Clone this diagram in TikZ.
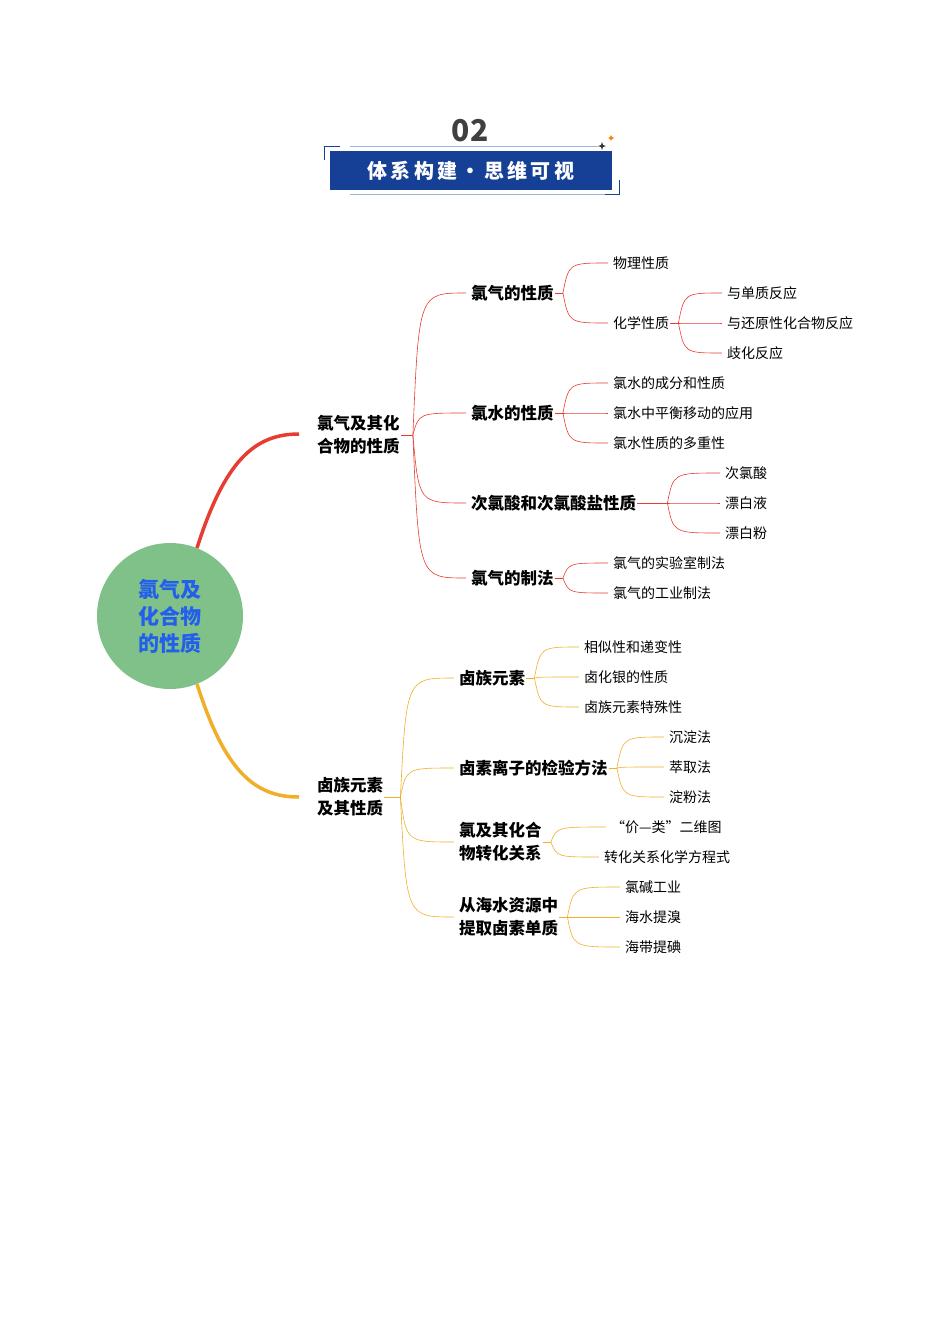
\documentclass[tikz,border=0pt]{standalone}
\usepackage{fontspec}
\setmainfont{Noto Sans CJK SC}
\definecolor{myred}{RGB}{230,60,50}
\definecolor{myorange}{RGB}{240,175,40}
\definecolor{mygreen}{RGB}{128,193,137}
\definecolor{myblue}{RGB}{35,95,235}
\definecolor{navy}{RGB}{22,64,150}
\tikzset{
    topic/.style={anchor=west, inner sep=1pt, font=\fontsize{16.5}{23}\selectfont\bfseries, align=left},
    leaf/.style={anchor=west, inner sep=1pt, font=\fontsize{14}{16}\selectfont},
    twig/.style={line width=0.6pt},
}
% curved connector from a split point to a child
\newcommand{\twig}[3]{\draw[twig, #3] (#1) .. controls ([xshift=6pt]#1 |- #2.west) .. ([xshift=-4pt]#2.west);}
\begin{document}
\begin{tikzpicture}[x=1pt, y=-1pt]
    \useasboundingbox (0, 0) rectangle (950, 1344);
    % Title
    \node[font=\fontsize{30}{30}\selectfont\bfseries, color=black!75] (num) at (470, 131) {02};
    \draw[navy!40, line width=0.6pt] (350, 146) -- (598, 146);
    \draw[navy!40, line width=0.6pt] (350, 194) -- (612, 194);
    \draw[navy, line width=1pt] (324, 160) -- (324, 146) -- (340, 146);
    \draw[navy, line width=1pt] (619, 180) -- (619, 194) -- (605, 194);
    \fill[navy] (330, 151) rectangle (612, 190);
    \node[font=\fontsize{20}{20}\selectfont\bfseries, color=white] (title) at (471, 171) {体\,系\,构\,建\,·\,思\,维\,可\,视};
    \fill[black!80] (602, 142) -- (603, 145) -- (606, 146) -- (603, 147) -- (602, 150) -- (601, 147) -- (598, 146) -- (601, 145) -- cycle;
    \fill[orange] (611, 135) -- (612, 137) -- (614, 138) -- (612, 139) -- (611, 141) -- (610, 139) -- (608, 138) -- (610, 137) -- cycle;

    % Root
    \node[circle, fill=mygreen, minimum size=146pt, inner sep=0pt, align=center,
        font=\fontsize{21}{27}\selectfont\bfseries, text=myblue] (root) at (170, 616)
        {氯气及\\化合物\\的性质};
    \draw[myred, line width=3.5pt] (197, 548) .. controls (225, 460) and (255, 434) .. (299, 434);
    \draw[myorange, line width=3.5pt] (197, 684) .. controls (225, 772) and (255, 797) .. (299, 797);

    % Level one
    \node[topic] (cl) at (316, 435) {氯气及其化\\合物的性质};
    \node[topic] (hal) at (316, 797) {卤族元素\\及其性质};

    % Chlorine branch
    \node[topic] (clprop) at (470, 293) {氯气的性质};
    \node[topic] (water) at (470, 413) {氯水的性质};
    \node[topic] (hclo) at (470, 503) {次氯酸和次氯酸盐性质};
    \node[topic] (prep) at (470, 578) {氯气的制法};
    \draw[twig, myred] (cl.east) -- ++(12, 0) coordinate (s1);
    \foreach \c in {clprop, water, hclo, prep} {\twig{s1}{\c}{myred}}

    \node[leaf] (phys) at (612, 263) {物理性质};
    \node[leaf] (chem) at (612, 323) {化学性质};
    \draw[twig, myred] (clprop.east) -- ++(8, 0) coordinate (s2);
    \foreach \c in {phys, chem} {\twig{s2}{\c}{myred}}

    \node[leaf] (elem) at (726, 293) {与单质反应};
    \node[leaf] (redu) at (726, 323) {与还原性化合物反应};
    \node[leaf] (disp) at (726, 353) {歧化反应};
    \draw[twig, myred] (chem.east) -- ++(8, 0) coordinate (s3);
    \foreach \c in {elem, redu, disp} {\twig{s3}{\c}{myred}}

    \node[leaf] (comp) at (612, 383) {氯水的成分和性质};
    \node[leaf] (equi) at (612, 413) {氯水中平衡移动的应用};
    \node[leaf] (mult) at (612, 443) {氯水性质的多重性};
    \draw[twig, myred] (water.east) -- ++(8, 0) coordinate (s4);
    \foreach \c in {comp, equi, mult} {\twig{s4}{\c}{myred}}

    \node[leaf] (acid) at (724, 473) {次氯酸};
    \node[leaf] (liq) at (724, 503) {漂白液};
    \node[leaf] (pow) at (724, 533) {漂白粉};
    \draw[twig, myred] (hclo.east) -- ++(30, 0) coordinate (s5);
    \foreach \c in {acid, liq, pow} {\twig{s5}{\c}{myred}}

    \node[leaf] (lab) at (612, 563) {氯气的实验室制法};
    \node[leaf] (ind) at (612, 593) {氯气的工业制法};
    \draw[twig, myred] (prep.east) -- ++(8, 0) coordinate (s6);
    \foreach \c in {lab, ind} {\twig{s6}{\c}{myred}}

    % Halogen branch
    \node[topic] (group) at (458, 678) {卤族元素};
    \node[topic] (ion) at (458, 768) {卤素离子的检验方法};
    \node[topic] (conv) at (458, 842) {氯及其化合\\物转化关系};
    \node[topic] (sea) at (458, 917) {从海水资源中\\提取卤素单质};
    \draw[twig, myorange] (hal.east) -- ++(16, 0) coordinate (t1);
    \foreach \c in {group, ion, conv, sea} {\twig{t1}{\c}{myorange}}

    \node[leaf] (sim) at (583, 647) {相似性和递变性};
    \node[leaf] (agx) at (583, 677) {卤化银的性质};
    \node[leaf] (spec) at (583, 707) {卤族元素特殊性};
    \draw[twig, myorange] (group.east) -- ++(8, 0) coordinate (t2);
    \foreach \c in {sim, agx, spec} {\twig{t2}{\c}{myorange}}

    \node[leaf] (prec) at (668, 737) {沉淀法};
    \node[leaf] (extr) at (668, 767) {萃取法};
    \node[leaf] (star) at (668, 797) {淀粉法};
    \draw[twig, myorange] (ion.east) -- ++(8, 0) coordinate (t3);
    \foreach \c in {prec, extr, star} {\twig{t3}{\c}{myorange}}

    \node[leaf] (vc) at (610, 827) {“价—类”二维图};
    \node[leaf] (eq) at (603, 857) {转化关系化学方程式};
    \draw[twig, myorange] (conv.east) -- ++(8, 0) coordinate (t4);
    \foreach \c in {vc, eq} {\twig{t4}{\c}{myorange}}

    \node[leaf] (cla) at (624, 887) {氯碱工业};
    \node[leaf] (br) at (624, 917) {海水提溴};
    \node[leaf] (io) at (624, 947) {海带提碘};
    \draw[twig, myorange] (sea.east) -- ++(8, 0) coordinate (t5);
    \foreach \c in {cla, br, io} {\twig{t5}{\c}{myorange}}
\end{tikzpicture}
\end{document}
